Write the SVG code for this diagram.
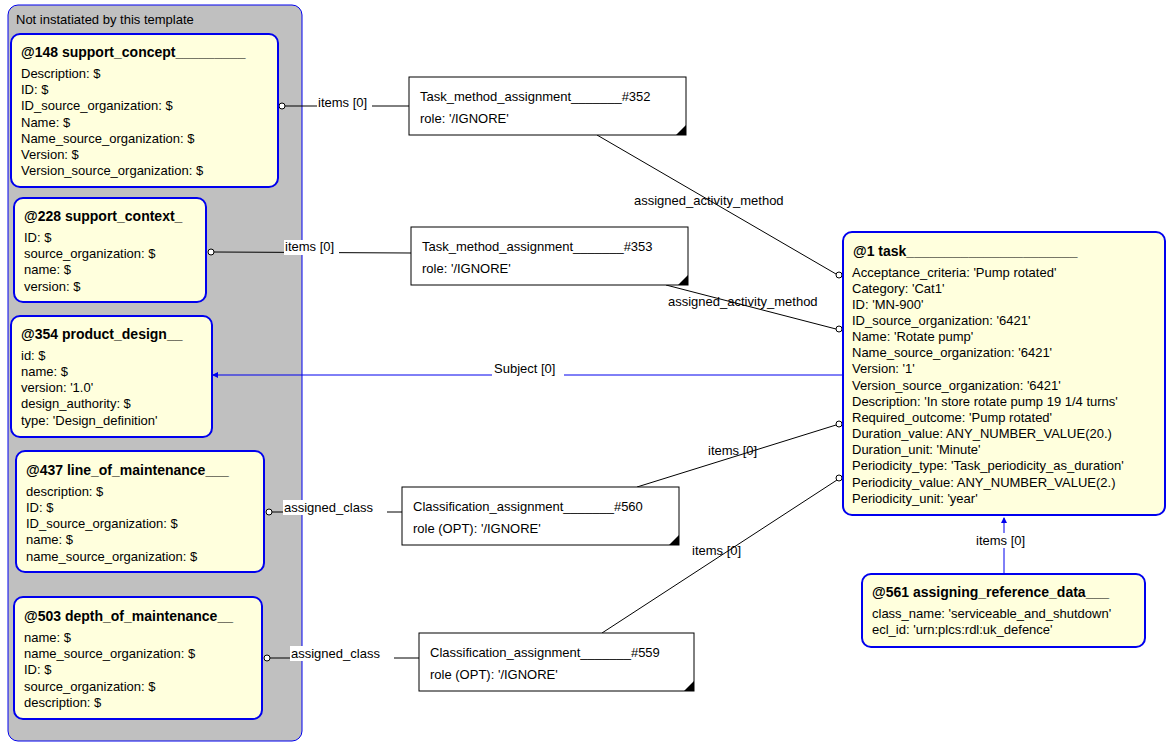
<svg xmlns="http://www.w3.org/2000/svg" width="1175" height="753" viewBox="0 0 1175 753">
<style>
text{font-family:"Liberation Sans",Arial,sans-serif;font-size:13px;fill:#000}
.t{font-weight:bold;font-size:14px}
.n{fill:#ffffdd;stroke:#0000ee;stroke-width:2}
.a{fill:#fff;stroke:#000;stroke-width:1}
.c{stroke:#000;stroke-width:1;fill:none}
.b{stroke:#0000ee;stroke-width:1;fill:none}
.o{fill:#fff;stroke:#000;stroke-width:1}
.lb{fill:#fff}
</style>
<defs>
<marker id="ar" markerWidth="6" markerHeight="6" refX="5" refY="3" orient="auto"><path d="M0,0 L6,3 L0,6 z" fill="#0000ee"/></marker>
</defs>
<rect x="8" y="5" width="294" height="736" rx="10" fill="#c0c0c0" stroke="#0000ee" stroke-width="1"/>
<text x="16" y="24">Not instatiated by this template</text>
<g id="connectors">
<line class="c" x1="282" y1="106" x2="409" y2="106"/>
<line class="c" x1="214" y1="252" x2="411" y2="253"/>
<line class="b" x1="843" y1="375" x2="213" y2="375" marker-end="url(#ar)"/>
<line class="c" x1="272" y1="512" x2="402" y2="512"/>
<line class="c" x1="270" y1="658" x2="419" y2="658"/>
<line class="c" x1="597" y1="135" x2="836" y2="274"/>
<line class="c" x1="666" y1="285" x2="836" y2="329"/>
<line class="c" x1="637" y1="487" x2="836" y2="425"/>
<line class="c" x1="602" y1="633" x2="837" y2="480"/>
<line class="b" x1="1004" y1="574" x2="1004" y2="518" marker-end="url(#ar)"/>
<circle class="o" cx="282" cy="106" r="3"/>
<circle class="o" cx="211" cy="252" r="3"/>
<circle class="o" cx="269" cy="512" r="3"/>
<circle class="o" cx="267" cy="658" r="3"/>
<circle class="o" cx="839" cy="275" r="3"/>
<circle class="o" cx="839" cy="329" r="3"/>
<circle class="o" cx="839" cy="424" r="3"/>
<circle class="o" cx="839" cy="478" r="3"/>
<rect class="lb" x="317" y="96" width="55" height="15"/><text x="318" y="107">items [0]</text>
<rect class="lb" x="284" y="240" width="55" height="15"/><text x="285" y="251">items [0]</text>
<rect class="lb" x="492" y="362" width="72" height="15"/><text x="494" y="373">Subject [0]</text>
<rect class="lb" x="283" y="500" width="104" height="15"/><text x="284" y="512">assigned_class</text>
<rect class="lb" x="290" y="646" width="104" height="15"/><text x="291" y="658">assigned_class</text>
<text x="634" y="205">assigned_activity_method</text>
<text x="668" y="306">assigned_activity_method</text>
<text x="708" y="455">items [0]</text>
<text x="692" y="555">items [0]</text>
<rect class="lb" x="974" y="533" width="58" height="15"/><text x="976" y="545">items [0]</text>
</g>
<g id="n148"><rect class="n" x="11" y="34" width="267" height="153" rx="9"/>
<text class="t" x="21" y="57">@148 support_concept_________</text>
<text x="21" y="78">Description: $</text><text x="21" y="94">ID: $</text><text x="21" y="110">ID_source_organization: $</text><text x="21" y="127">Name: $</text><text x="21" y="143">Name_source_organization: $</text><text x="21" y="159">Version: $</text><text x="21" y="175">Version_source_organization: $</text></g>
<g id="n228"><rect class="n" x="14" y="198" width="192" height="104" rx="9"/>
<text class="t" x="24" y="221">@228 support_context_</text>
<text x="24" y="242">ID: $</text><text x="24" y="258">source_organization: $</text><text x="24" y="274">name: $</text><text x="24" y="291">version: $</text></g>
<g id="n354"><rect class="n" x="11" y="316" width="201" height="121" rx="9"/>
<text class="t" x="21" y="339">@354 product_design__</text>
<text x="21" y="360">id: $</text><text x="21" y="376">name: $</text><text x="21" y="392">version: '1.0'</text><text x="21" y="408">design_authority: $</text><text x="21" y="425">type: 'Design_definition'</text></g>
<g id="n437"><rect class="n" x="16" y="451" width="248" height="121" rx="9"/>
<text class="t" x="26" y="475">@437 line_of_maintenance___</text>
<text x="26" y="496">description: $</text><text x="26" y="512">ID: $</text><text x="26" y="528">ID_source_organization: $</text><text x="26" y="544">name: $</text><text x="26" y="561">name_source_organization: $</text></g>
<g id="n503"><rect class="n" x="14" y="597" width="248" height="122" rx="9"/>
<text class="t" x="24" y="621">@503 depth_of_maintenance__</text>
<text x="24" y="642">name: $</text><text x="24" y="658">name_source_organization: $</text><text x="24" y="674">ID: $</text><text x="24" y="691">source_organization: $</text><text x="24" y="707">description: $</text></g>
<g id="a352"><rect class="a" x="409" y="77" width="277" height="58"/><path d="M686,125 L686,135 L676,135 z"/>
<text x="420" y="101">Task_method_assignment_______#352</text><text x="420" y="123">role: '/IGNORE'</text></g>
<g id="a353"><rect class="a" x="411" y="227" width="277" height="58"/><path d="M688,275 L688,285 L678,285 z"/>
<text x="422" y="251">Task_method_assignment_______#353</text><text x="422" y="273">role: '/IGNORE'</text></g>
<g id="a560"><rect class="a" x="402" y="487" width="277" height="58"/><path d="M679,535 L679,545 L669,545 z"/>
<text x="413" y="511">Classification_assignment_______#560</text><text x="413" y="533">role (OPT): '/IGNORE'</text></g>
<g id="a559"><rect class="a" x="419" y="633" width="275" height="58"/><path d="M694,681 L694,691 L684,691 z"/>
<text x="430" y="657">Classification_assignment_______#559</text><text x="430" y="679">role (OPT): '/IGNORE'</text></g>
<g id="n1"><rect class="n" x="843" y="232" width="322" height="283" rx="9"/>
<text class="t" x="853" y="256">@1 task______________________</text>
<text x="852" y="277">Acceptance_criteria: 'Pump rotated'</text>
<text x="852" y="293">Category: 'Cat1'</text>
<text x="852" y="309">ID: 'MN-900'</text>
<text x="852" y="325">ID_source_organization: '6421'</text>
<text x="852" y="341">Name: 'Rotate pump'</text>
<text x="852" y="357">Name_source_organization: '6421'</text>
<text x="852" y="373">Version: '1'</text>
<text x="852" y="390">Version_source_organization: '6421'</text>
<text x="852" y="406">Description: 'In store rotate pump 19 1/4 turns'</text>
<text x="852" y="422">Required_outcome: 'Pump rotated'</text>
<text x="852" y="438">Duration_value: ANY_NUMBER_VALUE(20.)</text>
<text x="852" y="454">Duration_unit: 'Minute'</text>
<text x="852" y="470">Periodicity_type: 'Task_periodicity_as_duration'</text>
<text x="852" y="487">Periodicity_value: ANY_NUMBER_VALUE(2.)</text>
<text x="852" y="503">Periodicity_unit: 'year'</text></g>
<g id="n561"><rect class="n" x="862" y="574" width="283" height="73" rx="9"/>
<text class="t" x="872" y="597">@561 assigning_reference_data___</text>
<text x="872" y="618">class_name: 'serviceable_and_shutdown'</text>
<text x="872" y="634">ecl_id: 'urn:plcs:rdl:uk_defence'</text></g>
</svg>
